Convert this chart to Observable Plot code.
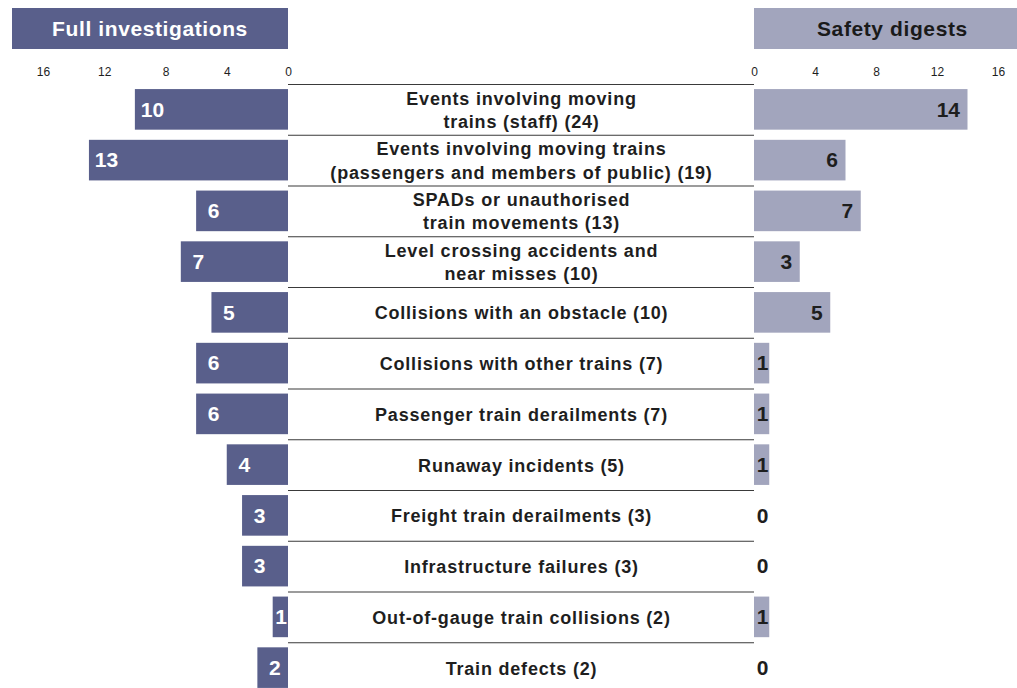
<!DOCTYPE html>
<html><head><meta charset="utf-8">
<script src="https://cdn.jsdelivr.net/npm/d3@7"></script>
<script src="https://cdn.jsdelivr.net/npm/@observablehq/plot@0.6"></script>
<style>
html,body{margin:0;padding:0;background:#fff;overflow:hidden;width:1017px;height:688px;font-family:"Liberation Sans",Arial,sans-serif;}
#header{position:relative;height:56px;}
.hbox{position:absolute;top:8px;height:41px;display:flex;align-items:center;font-weight:bold;font-size:21px;letter-spacing:0.6px;box-sizing:border-box;}
#left-h{left:12px;width:276px;background:#595f8b;color:#fff;justify-content:center;}
#right-h{left:754px;width:263px;background:#a2a5bd;color:#1a1a1a;padding-left:63px;}
#charts{position:relative;height:640px;}
#charts svg{position:absolute;top:0;}
#mid text{letter-spacing:0.8px;}
</style>
</head>
<body>
<div id="header">
  <div class="hbox" id="left-h">Full investigations</div>
  <div class="hbox" id="right-h">Safety digests</div>
</div>
<div id="charts"></div>
<script>
const categories = [
  "Events involving moving\ntrains (staff) (24)",
  "Events involving moving trains\n(passengers and members of public) (19)",
  "SPADs or unauthorised\ntrain movements (13)",
  "Level crossing accidents and\nnear misses (10)",
  "Collisions with an obstacle (10)",
  "Collisions with other trains (7)",
  "Passenger train derailments (7)",
  "Runaway incidents (5)",
  "Freight train derailments (3)",
  "Infrastructure failures (3)",
  "Out-of-gauge train collisions (2)",
  "Train defects (2)"
];
const fullInvestigations = [10, 13, 6, 7, 5, 6, 6, 4, 3, 3, 1, 2];
const safetyDigests = [14, 6, 7, 3, 5, 1, 1, 1, 0, 0, 1, 0];
const xTicks = [0, 4, 8, 12, 16];

const rows = categories.map((c, i) => ({category: c, full: fullInvestigations[i], digest: safetyDigests[i]}));

const DARK = "#595f8b", LIGHT = "#a2a5bd", INK = "#1e1e1e";
const H = 637, MT = 28;
const yOpts = {domain: categories, paddingInner: 0.2, paddingOuter: 0.1, round: false, axis: null};
const step = (H - MT) / categories.length;
const font = {fontFamily: "'Liberation Sans', Arial, sans-serif", color: INK, background: "transparent", overflow: "visible"};

const left = Plot.plot({
  width: 288, height: H, marginLeft: 43, marginRight: 0, marginTop: MT, marginBottom: 0,
  style: font,
  x: {domain: [0, 16], reverse: true, label: null},
  y: yOpts,
  marks: [
    Plot.axisX(xTicks, {anchor: "top", tickSize: 0, tickPadding: 9, fontSize: 12, label: null}),
    Plot.barX(rows, {x: "full", y: "category", fill: DARK}),
    Plot.text(rows.filter(d => d.full >= 2), {x: "full", y: "category", text: d => String(d.full), dx: 17, fill: "white", fontWeight: "bold", fontSize: 21}),
    Plot.text(rows.filter(d => d.full < 2), {x: "full", y: "category", text: d => String(d.full), dx: 8, fill: "white", fontWeight: "bold", fontSize: 21})
  ]
});
left.style.left = "0px";

const middle = Plot.plot({
  width: 466, height: H, marginLeft: 0, marginRight: 0, marginTop: MT, marginBottom: 0,
  style: font,
  x: {domain: [0, 1], axis: null},
  y: yOpts,
  marks: [
    Plot.ruleY(categories, {y: d => d, dy: -step / 2, stroke: "#3a3a3a", strokeWidth: 1.2}),
    Plot.text(categories, {y: d => d, text: d => d, dy: -1, fontWeight: "bold", fontSize: 18, lineHeight: 1.28, fill: INK})
  ]
});
middle.id = "mid";
middle.style.left = "288px";

const right = Plot.plot({
  width: 263, height: H, marginLeft: 0, marginRight: 19, marginTop: MT, marginBottom: 0,
  style: font,
  x: {domain: [0, 16], label: null},
  y: yOpts,
  marks: [
    Plot.axisX(xTicks, {anchor: "top", tickSize: 0, tickPadding: 9, fontSize: 12, label: null}),
    Plot.barX(rows, {x: "digest", y: "category", fill: LIGHT}),
    Plot.text(rows.filter(d => d.digest >= 2), {x: "digest", y: "category", text: d => String(d.digest), textAnchor: "end", dx: -8, fill: INK, fontWeight: "bold", fontSize: 21}),
    Plot.text(rows.filter(d => d.digest < 2), {x: d => 0, y: "category", text: d => String(d.digest), dx: 8, fill: INK, fontWeight: "bold", fontSize: 21})
  ]
});
right.style.left = "754px";

const charts = document.getElementById("charts");
charts.append(left, middle, right);
</script>
</body></html>
